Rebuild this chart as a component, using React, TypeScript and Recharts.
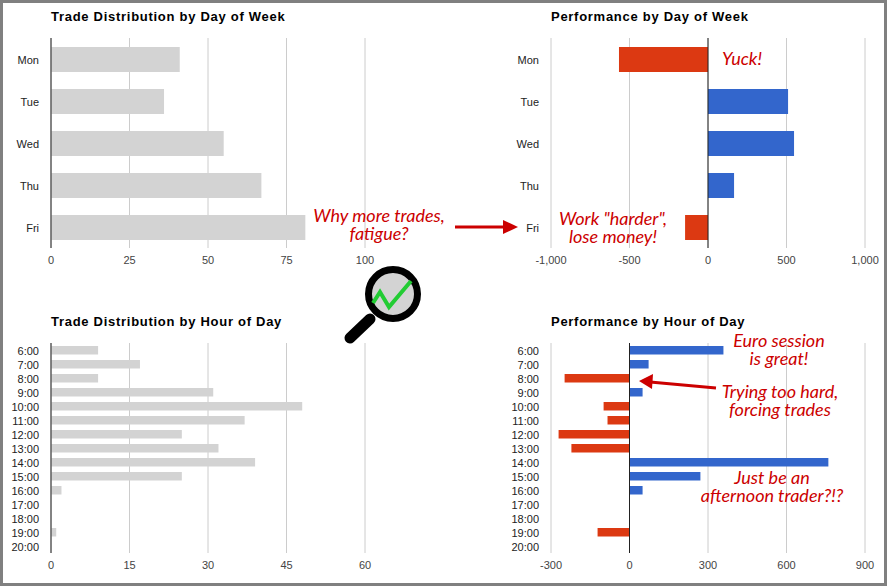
import { BarChart, Bar, XAxis, YAxis, CartesianGrid, Cell, ReferenceLine } from "recharts";

const DAYS = ["Mon", "Tue", "Wed", "Thu", "Fri"];
const DAY_TRADES = [41, 36, 55, 67, 81];
const DAY_PERF = [-567, 510, 548, 166, -146];

const HOURS = [
  "6:00", "7:00", "8:00", "9:00", "10:00", "11:00", "12:00", "13:00",
  "14:00", "15:00", "16:00", "17:00", "18:00", "19:00", "20:00",
];
const HOUR_TRADES = [9, 17, 9, 31, 48, 37, 25, 32, 39, 25, 2, 0, 0, 1, 0];
const HOUR_PERF = [359, 73, -248, 50, -99, -84, -271, -222, 760, 271, 50, 0, 0, -122, 0];

const DAY_TRADE_TICKS = [0, 25, 50, 75, 100];
const DAY_PERF_TICKS = [-1000, -500, 0, 500, 1000];
const HOUR_TRADE_TICKS = [0, 15, 30, 45, 60];
const HOUR_PERF_TICKS = [-300, 0, 300, 600, 900];

const FONT = "'Liberation Sans', Arial, sans-serif";
const NOTE_FONT = "Lato, sans-serif";
const GRAY = "#d3d3d3";
const RED = "#dc3912";
const BLUE = "#3366cc";
const NOTE_RED = "#cc0000";

type PanelProps = {
  title: string;
  left: number;
  top: number;
  width: number;
  categories: string[];
  values: number[];
  ticks: number[];
  barSize: number;
  signed?: boolean;
};

function Panel({ title, left, top, width, categories, values, ticks, barSize, signed }: PanelProps) {
  const data = categories.map((name, i) => ({ name, value: values[i] }));
  return (
    <div style={{ position: "absolute", left, top, width, height: 270 }}>
      <div
        style={{
          position: "absolute",
          left: 51,
          top: 9,
          font: `bold 13px ${FONT}`,
          letterSpacing: 0.72,
          color: "#000",
          whiteSpace: "nowrap",
        }}
      >
        {title}
      </div>
      <BarChart
        width={width}
        height={270}
        data={data}
        layout="vertical"
        margin={{ top: 38, right: width - 365, bottom: 0, left: 0 }}
      >
        <CartesianGrid horizontal={false} stroke="#cccccc" />
        <XAxis
          type="number"
          domain={[ticks[0], ticks[ticks.length - 1]]}
          ticks={ticks}
          interval={0}
          height={22}
          axisLine={false}
          tickLine={false}
          tickSize={0}
          tickMargin={8}
          tick={{ fontSize: 11, fontFamily: FONT, fill: "#444444" }}
          tickFormatter={(v: number) => v.toLocaleString("en-US")}
        />
        <YAxis
          type="category"
          dataKey="name"
          width={51}
          interval={0}
          axisLine={false}
          tickLine={false}
          tickSize={0}
          tickMargin={12}
          tick={{ fontSize: 11, fontFamily: FONT, fill: "#222222", dy: 1 }}
        />
        <Bar dataKey="value" barSize={barSize} fill={GRAY} isAnimationActive={false}>
          {data.map((d) => (
            <Cell key={d.name} fill={signed ? (d.value < 0 ? RED : BLUE) : GRAY} />
          ))}
        </Bar>
        <ReferenceLine x={0} stroke="#222222" strokeWidth={1} />
      </BarChart>
    </div>
  );
}

function Note({ lines, x, y }: { lines: string[]; x: number; y: number }) {
  return (
    <text
      x={x}
      y={y}
      textAnchor="middle"
      fontFamily={NOTE_FONT}
      fontStyle="italic"
      fontSize={18}
      fill={NOTE_RED}
    >
      {lines.map((line, i) => (
        <tspan key={line} x={x} dy={i === 0 ? 0 : 18}>
          {line}
        </tspan>
      ))}
    </text>
  );
}

export default function App() {
  return (
    <div
      style={{
        position: "absolute",
        left: 0,
        top: 0,
        width: 887,
        height: 586,
        boxSizing: "border-box",
        background: "#fff",
        overflow: "hidden",
      }}
    >
      <Panel title="Trade Distribution by Day of Week" left={0} top={0} width={400} categories={DAYS} values={DAY_TRADES} ticks={DAY_TRADE_TICKS} barSize={25} />
      <Panel title="Performance by Day of Week" left={500} top={0} width={387} categories={DAYS} values={DAY_PERF} ticks={DAY_PERF_TICKS} barSize={25} signed />
      <Panel title="Trade Distribution by Hour of Day" left={0} top={305} width={400} categories={HOURS} values={HOUR_TRADES} ticks={HOUR_TRADE_TICKS} barSize={8.5} />
      <Panel title="Performance by Hour of Day" left={500} top={305} width={387} categories={HOURS} values={HOUR_PERF} ticks={HOUR_PERF_TICKS} barSize={8.5} signed />

      <svg width={887} height={586} style={{ position: "absolute", left: 0, top: 0 }}>
        <Note lines={["Why more trades,", "fatigue?"]} x={379} y={222} />
        <Note lines={['Work "harder",', "lose money!"]} x={613} y={225} />
        <Note lines={["Yuck!"]} x={742} y={65} />
        <Note lines={["Euro session", "is great!"]} x={779} y={347} />
        <Note lines={["Trying too hard,", "forcing trades"]} x={780} y={398} />
        <Note lines={["Just be an", "afternoon trader?!?"]} x={772} y={484} />

        <line x1={455} y1={227} x2={505} y2={227} stroke={NOTE_RED} strokeWidth={3} />
        <polygon points="503,220 518,227 503,234" fill={NOTE_RED} />
        <line x1={716} y1={388} x2={650} y2={382} stroke={NOTE_RED} strokeWidth={3} />
        <polygon points="639,381 653,374 652,389" fill={NOTE_RED} />

        <line x1={370} y1={319} x2={350} y2={338} stroke="#000" strokeWidth={11} strokeLinecap="round" />
        <circle cx={393} cy={294} r={24.5} fill={GRAY} stroke="#000" strokeWidth={7} />
        <polyline points="373,303 380,292 389,307 411,281" fill="none" stroke="#22cc33" strokeWidth={4} />
      </svg>

      <div
        style={{
          position: "absolute",
          inset: 0,
          border: "3px solid #808080",
          pointerEvents: "none",
        }}
      />
    </div>
  );
}
